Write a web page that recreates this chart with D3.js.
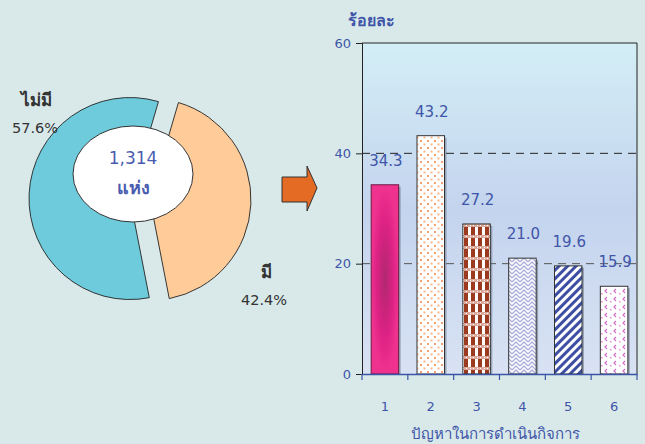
<!DOCTYPE html>
<html><head><meta charset="utf-8">
<script src="https://cdn.jsdelivr.net/npm/d3@7"></script>
<style>
html,body{margin:0;padding:0;background:#d9e9ea;}
svg{display:block;}
text{font-family:Tahoma,"DejaVu Sans","Noto Sans",sans-serif;}
</style></head><body>
<svg id="c" width="645" height="444"></svg>
<script>
const pieLabels = ["ไม่มี", "มี"];
const pieValues = [57.6, 42.4];
const pieTotal = "1,314";
const pieUnit = "แห่ง";
const categories = ["1", "2", "3", "4", "5", "6"];
const values = [34.3, 43.2, 27.2, 21.0, 19.6, 15.9];
const yTicks = [0, 20, 40, 60];
const yTitle = "ร้อยละ";
const xTitle = "ปัญหาในการดำเนินกิจการ";

const svg = d3.select("#c");
svg.append("rect").attr("width",645).attr("height",444).attr("fill","#d9e9ea");
const defs = svg.append("defs");

const pg = defs.append("linearGradient").attr("id","plotbg").attr("x1",0).attr("y1",0).attr("x2",0).attr("y2",1);
pg.append("stop").attr("offset","0%").attr("stop-color","#d3eef6");
pg.append("stop").attr("offset","50%").attr("stop-color","#c4d4ee");
pg.append("stop").attr("offset","100%").attr("stop-color","#d8e2f3");

const rg = defs.append("radialGradient").attr("id","p1").attr("cx","50%").attr("cy","50%").attr("r","50%");
rg.append("stop").attr("offset","0%").attr("stop-color","#b02870");
rg.append("stop").attr("offset","60%").attr("stop-color","#dc2284");
rg.append("stop").attr("offset","100%").attr("stop-color","#f0328f");

let p = defs.append("pattern").attr("id","p2").attr("width",7).attr("height",7).attr("patternUnits","userSpaceOnUse");
p.append("rect").attr("width",7).attr("height",7).attr("fill","#fff");
p.append("rect").attr("x",0).attr("y",0).attr("width",2).attr("height",2).attr("fill","#f5a070");
p.append("rect").attr("x",3.5).attr("y",3.5).attr("width",2).attr("height",2).attr("fill","#f8b890");

p = defs.append("pattern").attr("id","p3").attr("width",7).attr("height",11).attr("patternUnits","userSpaceOnUse");
p.append("rect").attr("width",7).attr("height",11).attr("fill","#fff");
p.append("rect").attr("x",2).attr("y",0).attr("width",4).attr("height",11).attr("fill","#9c3a20");
p.append("rect").attr("x",0).attr("y",4).attr("width",7).attr("height",3).attr("fill","#d9a89a");
p.append("rect").attr("x",1).attr("y",5).attr("width",1).attr("height",1).attr("fill","#fff");
p.append("rect").attr("x",4).attr("y",5).attr("width",1).attr("height",1).attr("fill","#fff");

p = defs.append("pattern").attr("id","p4").attr("width",8).attr("height",8).attr("patternUnits","userSpaceOnUse");
p.append("rect").attr("width",8).attr("height",8).attr("fill","#fff");
p.append("path").attr("d","M0,6 L4,2 L8,6 M0,10 L4,6 L8,10 M0,2 L4,-2 L8,2").attr("fill","none").attr("stroke","#a9acd8").attr("stroke-width",1.3);

p = defs.append("pattern").attr("id","p5").attr("width",6).attr("height",6).attr("patternUnits","userSpaceOnUse").attr("patternTransform","rotate(-45)");
p.append("rect").attr("width",6).attr("height",6).attr("fill","#fff");
p.append("rect").attr("x",0).attr("y",0).attr("width",6).attr("height",3).attr("fill","#3d4fa3");

p = defs.append("pattern").attr("id","p6").attr("width",9).attr("height",8).attr("patternUnits","userSpaceOnUse");
p.append("rect").attr("width",9).attr("height",8).attr("fill","#fff");
p.append("path").attr("d","M4,1 L2,3 L4,5").attr("fill","none").attr("stroke","#d070c8").attr("stroke-width",1.2);
p.append("rect").attr("x",7).attr("y",5).attr("width",1.5).attr("height",1.5).attr("fill","#e090d8");

const fills = ["url(#p1)","url(#p2)","url(#p3)","url(#p4)","url(#p5)","url(#p6)"];

// ---- Pie ----
const base = {x:140, y:199};
const R = 101;
const pie = d3.pie().sort(null).startAngle(169*Math.PI/180).endAngle(169*Math.PI/180 + 2*Math.PI);
const arcs = pie(pieValues);
const arc = d3.arc().innerRadius(0).outerRadius(R);
const pieColors = ["#6ecbdc","#ffcc99"];
const pg2 = svg.append("g");
arcs.forEach((a,i)=>{
  const mid = (a.startAngle + a.endAngle)/2;
  const off = 10;
  const dx = Math.sin(mid)*off, dy = -Math.cos(mid)*off;
  pg2.append("path").attr("d", arc(a))
    .attr("transform", `translate(${base.x+dx},${base.y+dy})`)
    .attr("fill", pieColors[i]).attr("stroke","#222").attr("stroke-width",0.9);
});
svg.append("ellipse").attr("cx",133).attr("cy",174).attr("rx",60).attr("ry",48)
  .attr("fill","#fff").attr("stroke","#333").attr("stroke-width",1);
svg.append("text").attr("x",133).attr("y",164).attr("text-anchor","middle")
  .attr("font-size",17).attr("fill","#4a5cb0").text(pieTotal);
svg.append("text").attr("x",133).attr("y",194).attr("text-anchor","middle")
  .attr("font-size",18).attr("font-weight","bold").attr("fill","#4a5cb0").text(pieUnit);

const pieLabPos = [{x:36,y:106,px:35,py:133},{x:266,y:278,px:264,py:305}];
pieLabels.forEach((l,i)=>{
  svg.append("text").attr("x",pieLabPos[i].x).attr("y",pieLabPos[i].y).attr("text-anchor","middle")
    .attr("font-size",17).attr("font-weight","bold").attr("fill","#333").text(l);
  svg.append("text").attr("x",pieLabPos[i].px).attr("y",pieLabPos[i].py).attr("text-anchor","middle")
    .attr("font-size",14.5).attr("fill","#333").text(pieValues[i].toFixed(1)+"%");
});

svg.append("path").attr("d","M282,177 L307,177 L307,166 L317,188 L307,211 L307,202 L282,202 Z")
  .attr("fill","#e36b24").attr("stroke","#333").attr("stroke-width",1);

// ---- Bar chart ----
const L=362, Rr=637, T=43, B=374;
const x = d3.scaleBand().domain(categories).range([L,Rr]).paddingInner(0.4).paddingOuter(0.2);
const y = d3.scaleLinear().domain([0,60]).range([B,T]);

svg.append("rect").attr("x",L).attr("y",T).attr("width",Rr-L).attr("height",B-T).attr("fill","url(#plotbg)");

[20,40].forEach(v=>{
  svg.append("line").attr("x1",L).attr("x2",Rr).attr("y1",y(v)).attr("y2",y(v))
    .attr("stroke", v===40?"#222":"#555").attr("stroke-width",1).attr("stroke-dasharray","8,6");
});
svg.append("line").attr("x1",L).attr("x2",Rr).attr("y1",T).attr("y2",T).attr("stroke","#222");
svg.append("line").attr("x1",Rr).attr("x2",Rr).attr("y1",T).attr("y2",B).attr("stroke","#222");

const bars = svg.append("g");
values.forEach((v,i)=>{
  const bx = x(categories[i]), bw = x.bandwidth();
  bars.append("rect").attr("x",bx+2).attr("y",y(v)+2).attr("width",bw).attr("height",B-y(v)-2)
    .attr("fill","#6a7488").attr("opacity",0.55);
  bars.append("rect").attr("x",bx).attr("y",y(v)).attr("width",bw).attr("height",B-y(v))
    .attr("fill",fills[i]).attr("stroke", i===0?"#6a1840":"#333").attr("stroke-width",1);
  svg.append("text").attr("x",bx+bw/2+1).attr("y",y(v)-19).attr("text-anchor","middle")
    .attr("font-size",15).attr("fill","#3f55a8").text(v.toFixed(1));
});

const ya = svg.append("g").attr("transform",`translate(${L},0)`)
  .call(d3.axisLeft(y).tickValues(yTicks).tickSize(6).tickPadding(5));
ya.select(".domain").attr("stroke","#222");
ya.selectAll(".tick line").attr("stroke","#222");
ya.selectAll("text").attr("font-size",13).attr("fill","#3f55a8").attr("font-family",null);

const xa = svg.append("g").attr("transform",`translate(0,${B})`)
  .call(d3.axisBottom(x).tickSize(0).tickPadding(28));
xa.select(".domain").attr("stroke","#3a55a5").attr("stroke-width",1.5);
xa.selectAll("text").attr("font-size",13).attr("fill","#3f55a8").attr("font-family",null);
d3.range(categories.length+1).forEach(i=>{
  const tx = L + i*x.step();
  xa.append("line").attr("x1",tx).attr("x2",tx).attr("y1",0).attr("y2",6).attr("stroke","#3a55a5").attr("stroke-width",1.2);
});

svg.append("text").attr("x",495).attr("y",439).attr("text-anchor","middle")
  .attr("font-size",15).attr("fill","#3f55a8").text(xTitle);
svg.append("text").attr("x",348).attr("y",26).attr("text-anchor","start")
  .attr("font-size",16).attr("font-weight","bold").attr("fill","#3f55a8").text(yTitle);
</script>
</body></html>
